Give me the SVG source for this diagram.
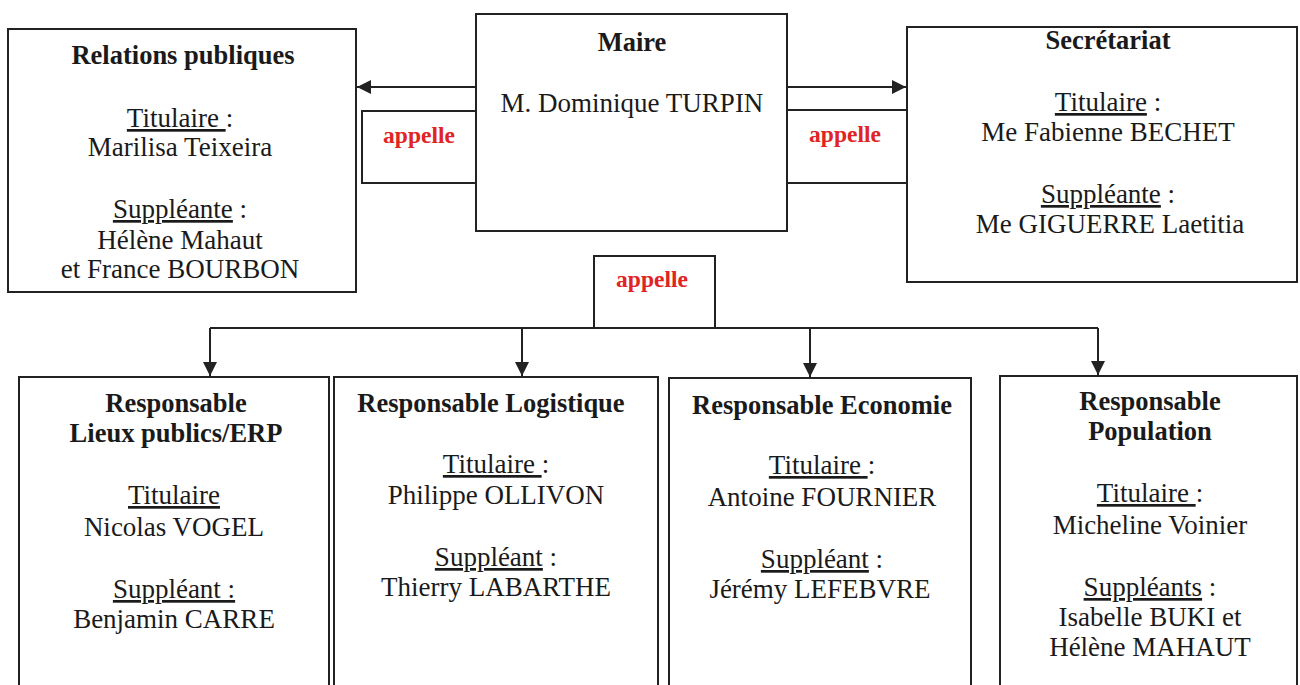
<svg xmlns="http://www.w3.org/2000/svg" width="1300" height="685" viewBox="0 0 1300 685">
<defs>
<marker id="ah" viewBox="0 0 10 10" refX="10" refY="5" markerWidth="14" markerHeight="14" markerUnits="userSpaceOnUse" orient="auto">
<path d="M0,0 L10,5 L0,10 Z" fill="#222"/>
</marker>
<style>
.box{fill:#fff;stroke:#222;stroke-width:2}
.ln{fill:none;stroke:#222;stroke-width:2}
text{font-family:"Liberation Serif","Times New Roman",serif;font-size:27px;fill:#1a1a1a;text-anchor:middle}
.h{font-weight:bold;font-size:26.5px}
.red{font-weight:bold;fill:#e02424;font-size:23.5px}
.u{text-decoration:underline}
</style>
</defs>
<rect width="1300" height="685" fill="#fff"/>
<g id="connectors">
<line class="ln" x1="476" y1="87" x2="357" y2="87" marker-end="url(#ah)"/>
<polyline class="ln" points="476,111 362,111 362,183 476,183"/>
<line class="ln" x1="787" y1="87" x2="906" y2="87" marker-end="url(#ah)"/>
<line class="ln" x1="787" y1="110" x2="907" y2="110"/>
<line class="ln" x1="787" y1="183" x2="907" y2="183"/>
<polyline class="ln" points="594,328 594,256 715,256 715,328"/>
<line class="ln" x1="210" y1="328" x2="1098" y2="328"/>
<line class="ln" x1="210" y1="328" x2="210" y2="376" marker-end="url(#ah)"/>
<line class="ln" x1="522" y1="328" x2="522" y2="376" marker-end="url(#ah)"/>
<line class="ln" x1="810" y1="328" x2="810" y2="377" marker-end="url(#ah)"/>
<line class="ln" x1="1098" y1="328" x2="1098" y2="375" marker-end="url(#ah)"/>
<text class="red" x="419" y="143">appelle</text>
<text class="red" x="845" y="142">appelle</text>
<text class="red" x="652" y="287">appelle</text>
</g>
<g id="relations">
<rect class="box" x="8" y="29" width="348" height="263"/>
<text class="h" x="183" y="64">Relations publiques</text>
<text x="180" y="127"><tspan class="u">Titulaire </tspan>:</text>
<text x="180" y="156">Marilisa Teixeira</text>
<text x="180" y="218"><tspan class="u">Suppléante</tspan> :</text>
<text x="180" y="249">Hélène Mahaut</text>
<text x="180" y="278">et France BOURBON</text>
</g>
<g id="maire">
<rect class="box" x="476" y="14" width="311" height="217"/>
<text class="h" x="632" y="51">Maire</text>
<text x="632" y="112">M. Dominique TURPIN</text>
</g>
<g id="secretariat">
<rect class="box" x="907" y="27" width="390" height="255"/>
<text class="h" x="1108" y="49">Secrétariat</text>
<text x="1108" y="111"><tspan class="u">Titulaire</tspan> :</text>
<text x="1108" y="141">Me Fabienne BECHET</text>
<text x="1108" y="203"><tspan class="u">Suppléante</tspan> :</text>
<text x="1110" y="233">Me GIGUERRE Laetitia</text>
</g>
<g id="lieux">
<rect class="box" x="19" y="377" width="310" height="330"/>
<text class="h" x="176" y="412">Responsable</text>
<text class="h" x="176" y="442">Lieux publics/ERP</text>
<text x="174" y="504"><tspan class="u">Titulaire</tspan></text>
<text x="174" y="536">Nicolas VOGEL</text>
<text x="174" y="598"><tspan class="u">Suppléant :</tspan></text>
<text x="174" y="628">Benjamin CARRE</text>
</g>
<g id="logistique">
<rect class="box" x="334" y="377" width="324" height="330"/>
<text class="h" x="491" y="412">Responsable Logistique</text>
<text x="496" y="473"><tspan class="u">Titulaire </tspan>:</text>
<text x="496" y="504">Philippe OLLIVON</text>
<text x="496" y="566"><tspan class="u">Suppléant</tspan> :</text>
<text x="496" y="596">Thierry LABARTHE</text>
</g>
<g id="economie">
<rect class="box" x="669" y="378" width="302" height="330"/>
<text class="h" x="822" y="414">Responsable Economie</text>
<text x="822" y="474"><tspan class="u">Titulaire </tspan>:</text>
<text x="822" y="506">Antoine FOURNIER</text>
<text x="822" y="568"><tspan class="u">Suppléant</tspan> :</text>
<text x="820" y="598">Jérémy LEFEBVRE</text>
</g>
<g id="population">
<rect class="box" x="1000" y="376" width="297" height="330"/>
<text class="h" x="1150" y="410">Responsable</text>
<text class="h" x="1150" y="440">Population</text>
<text x="1150" y="502"><tspan class="u">Titulaire </tspan>:</text>
<text x="1150" y="534">Micheline Voinier</text>
<text x="1150" y="596"><tspan class="u">Suppléants</tspan> :</text>
<text x="1150" y="626">Isabelle BUKI et</text>
<text x="1150" y="656">Hélène MAHAUT</text>
</g>
</svg>
